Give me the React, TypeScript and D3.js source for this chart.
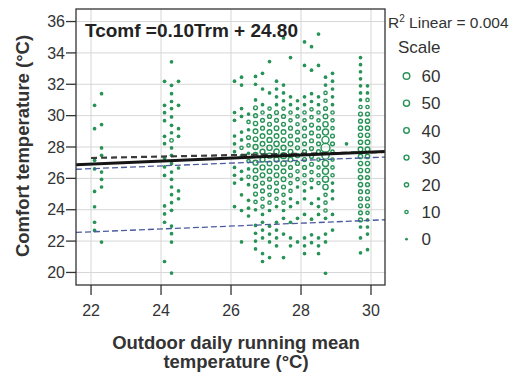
import React from "react";
import * as d3 from "d3";

const xTicks = [22, 24, 26, 28, 30];
const yTicks = [20, 22, 24, 26, 28, 30, 32, 34, 36];
const legendCounts = [60, 50, 40, 30, 20, 10, 0];

const columnX = [22.1, 22.3, 24.1, 24.3, 24.5, 26.1, 26.3, 26.5, 26.7, 26.9, 27.1, 27.3, 27.5, 27.7, 27.9, 28.1, 28.3, 28.5, 28.7, 28.9, 29.3, 29.7, 29.9];

// [comfort temperature, count] per column
const columnPoints: number[][][] = [
  [[30.66,5],[29.17,5],[27.15,5],[26.6,5],[25.17,5],[24.19,5],[23.2,5],[22.68,5]],
  [[31.4,5],[29.43,5],[27.94,5],[27.47,5],[26.4,5],[25.94,5],[25.45,5],[21.94,5]],
  [[32.19,5],[30.66,5],[30.19,5],[29.68,5],[28.68,5],[28.21,5],[27.26,5],[26.73,5],[26.19,5],[24.24,5],[23.73,5],[23.2,5],[20.7,5]],
  [[33.43,5],[31.93,5],[31.4,5],[30.9,5],[30.45,5],[29.92,5],[29.38,5],[28.91,5],[28.42,12],[27.94,5],[27.47,5],[26.94,5],[26.4,5],[25.94,5],[25.45,5],[24.96,5],[24.45,5],[23.96,5],[22.96,5],[22.47,5],[21.94,5],[19.96,5]],
  [[32.19,5],[30.66,5],[29.17,5],[28.68,5],[26.66,5],[25.2,5],[24.7,5]],
  [[32.2,5],[30.2,5],[29.7,5],[28.7,5],[28.2,5],[27.7,5],[26.7,5],[26.2,5],[25.7,5],[24.2,5]],
  [[32.45,5],[31.95,5],[30.45,5],[29.95,5],[28.95,5],[28.45,5],[27.95,10],[27.45,5],[26.45,5],[25.95,5],[24.95,5],[23.95,5],[21.95,5]],
  [[30.1,5],[29.6,10],[29.1,5],[28.6,15],[28.1,10],[27.6,5],[27.1,10],[26.6,5],[26.1,10],[25.6,5],[24.6,5],[24.1,5],[23.6,5]],
  [[32.5,5],[32.0,5],[31.0,5],[30.5,15],[30.0,15],[29.5,20],[29.0,25],[28.5,25],[28.0,30],[27.5,25],[27.0,30],[26.5,25],[26.0,25],[25.5,15],[25.0,15],[24.5,10],[24.0,5],[23.0,5],[22.5,5],[22.0,5],[21.5,5]],
  [[32.7,5],[31.7,5],[30.7,5],[30.2,10],[29.7,15],[29.2,15],[28.7,25],[28.2,25],[27.7,30],[27.2,30],[26.7,30],[26.2,25],[25.7,15],[25.2,15],[24.7,10],[24.2,10],[23.7,5],[23.2,5],[22.7,5],[22.2,5],[21.2,5],[20.7,5]],
  [[33.45,5],[31.45,5],[30.45,10],[29.95,15],[29.45,15],[28.95,25],[28.45,30],[27.95,35],[27.45,30],[26.95,25],[26.45,25],[25.95,15],[25.45,15],[24.95,10],[24.45,10],[23.95,5],[22.95,5],[22.45,5],[21.95,5],[20.95,5]],
  [[32.2,5],[31.7,5],[31.2,5],[30.7,5],[30.2,15],[29.7,15],[29.2,25],[28.7,25],[28.2,35],[27.7,35],[27.2,30],[26.7,25],[26.2,25],[25.7,15],[25.2,15],[24.7,10],[24.2,5],[23.2,5],[22.7,5],[22.2,5],[21.7,5]],
  [[34.95,5],[31.95,5],[31.45,5],[30.95,5],[30.45,10],[29.95,15],[29.45,15],[28.95,25],[28.45,25],[27.95,30],[27.45,45],[26.95,35],[26.45,25],[25.95,25],[25.45,15],[24.95,10],[24.45,10],[23.95,5],[23.45,5],[22.45,5],[20.95,5]],
  [[33.7,5],[31.2,5],[30.7,5],[30.2,10],[29.7,10],[29.2,15],[28.7,15],[28.2,25],[27.7,25],[27.2,25],[26.7,15],[26.2,15],[25.7,10],[25.2,10],[24.7,5],[24.2,5],[23.2,5],[22.2,5],[21.7,5]],
  [[30.95,5],[30.45,5],[29.95,10],[29.45,10],[28.95,15],[28.45,15],[27.95,15],[27.45,15],[26.95,15],[26.45,10],[25.95,10],[25.45,5],[24.45,5],[23.45,5],[21.95,5]],
  [[34.7,5],[33.2,5],[31.2,5],[30.7,5],[30.2,10],[29.7,10],[29.2,15],[28.7,15],[28.2,15],[27.7,15],[27.2,15],[26.7,15],[26.2,10],[25.7,10],[25.2,5],[24.7,5],[23.7,5],[22.2,5],[21.7,5],[21.2,5]],
  [[34.4,5],[32.9,5],[31.4,5],[30.9,5],[30.4,10],[29.9,10],[29.4,15],[28.9,15],[28.4,15],[27.9,15],[27.4,15],[26.9,15],[26.4,10],[25.9,10],[25.4,5],[24.4,5],[23.4,5],[22.4,5],[21.9,5]],
  [[35.2,5],[33.2,5],[31.2,5],[30.7,5],[30.2,10],[29.7,10],[29.2,15],[28.7,15],[28.2,15],[27.7,15],[27.2,10],[26.7,10],[26.2,10],[25.7,10],[24.7,5],[24.2,5],[23.7,5],[22.2,5],[21.7,5],[21.2,5]],
  [[32.45,5],[31.95,5],[31.45,10],[30.95,10],[30.45,15],[29.95,25],[29.45,35],[28.95,50],[28.45,70],[27.95,120],[27.45,70],[26.95,50],[26.45,50],[25.95,50],[25.45,35],[24.95,10],[24.45,10],[23.95,10],[23.45,5],[22.45,5],[21.95,5],[19.95,5]],
  [[32.7,5],[32.2,5],[31.7,5],[31.2,5],[30.7,5],[30.2,10],[29.7,10],[29.2,10],[28.7,15],[28.2,15],[27.7,10],[27.2,10],[26.7,10],[26.2,10],[25.7,5],[25.2,5],[24.7,5],[23.7,5],[22.7,5]],
  [[28.2,5]],
  [[33.7,5],[33.25,5],[32.8,5],[32.35,5],[31.9,5],[31.45,5],[31.0,5],[30.55,10],[30.1,15],[29.65,15],[29.2,20],[28.75,20],[28.3,20],[27.85,25],[27.4,20],[26.95,20],[26.5,20],[26.05,20],[25.6,20],[25.15,15],[24.7,15],[24.25,15],[23.8,15],[23.35,15],[22.9,5],[22.2,5],[21.25,5]],
  [[31.9,5],[31.45,5],[31.0,10],[30.55,10],[30.1,15],[29.65,20],[29.2,20],[28.75,20],[28.3,25],[27.85,25],[27.4,20],[26.95,20],[26.5,20],[26.05,15],[25.6,15],[25.15,15],[24.7,15],[24.25,15],[23.8,10],[23.35,5],[22.9,5],[22.45,5],[21.45,5]],
];

// fitted lines: [x0, y0, x1, y1]
const fitLine = [21.57, 26.87, 30.4, 27.72];
const meanLine = [22.0, 27.3, 30.4, 27.68];
const upperCI = [21.57, 26.58, 30.4, 27.36];
const lowerCI = [21.57, 22.55, 30.4, 23.36];

const W = 531, H = 374;
const L = 76, R = 385, T = 9, B = 285;
const GREEN = "#279356";
const FONT = "'Liberation Sans', Arial, Helvetica, sans-serif";

export default function App() {
  const x = d3.scaleLinear().domain([21.57, 30.4]).range([L, R]);
  const y = d3.scaleLinear().domain([19.2, 36.8]).range([B, T]);
  const rad = d3.scaleSqrt().domain([0, 60]).range([1.2, 4.0]);
  const line = d3.line<number[]>().x((d) => x(d[0])).y((d) => y(d[1]));
  const seg = (s: number[]) => line([[s[0], s[1]], [s[2], s[3]]]) || "";
  const SW = 1.4;

  const pts: { cx: number; cy: number; n: number }[] = [];
  columnX.forEach((cx, i) => {
    columnPoints[i].forEach(([v, n]) => pts.push({ cx, cy: v, n }));
  });
  pts.sort((a, b) => a.n - b.n);

  return (
    <svg width={W} height={H} style={{ position: "absolute", left: 0, top: 0, background: "#fff" }} fontFamily={FONT}>
      <rect x={0} y={0} width={W} height={H} fill="#fff" />
      <defs>
        <clipPath id="plotclip"><rect x={L} y={T} width={R - L} height={B - T} /></clipPath>
      </defs>
      {xTicks.map((t) => (
        <line key={"gx" + t} x1={x(t)} x2={x(t)} y1={T} y2={B} stroke="#d6d6d6" strokeWidth={1} />
      ))}
      {yTicks.map((t) => (
        <line key={"gy" + t} x1={L} x2={R} y1={y(t)} y2={y(t)} stroke="#d6d6d6" strokeWidth={1} />
      ))}
      <g clipPath="url(#plotclip)">
        {pts.map((p, i) => {
          const ro = rad(p.n);
          return p.n <= 5 ? (
            <circle key={i} cx={x(p.cx)} cy={y(p.cy)} r={1.85} fill={GREEN} />
          ) : (
            <circle key={i} cx={x(p.cx)} cy={y(p.cy)} r={Math.max(ro - SW / 2, 0.5)} fill="none" stroke={GREEN} strokeWidth={SW} />
          );
        })}
        <path d={seg(lowerCI)} stroke="#4a5a9e" strokeWidth={1.3} strokeDasharray="6 3" fill="none" />
        <path d={seg(upperCI)} stroke="#4a5a9e" strokeWidth={1.3} strokeDasharray="6 3" fill="none" />
        <path d={seg(meanLine)} stroke="#3a3a3a" strokeWidth={2.2} strokeDasharray="6 4" fill="none" />
        <path d={seg(fitLine)} stroke="#151515" strokeWidth={3} fill="none" />
      </g>
      <rect x={L} y={T} width={R - L} height={B - T} fill="none" stroke="#333" strokeWidth={1.3} />
      {yTicks.map((t) => (
        <g key={"ty" + t}>
          <line x1={L - 10} x2={L} y1={y(t)} y2={y(t)} stroke="#333" strokeWidth={1.3} />
          <text x={L - 11} y={y(t)} dy="0.36em" textAnchor="end" fontSize={16} fill="#333">{t}</text>
        </g>
      ))}
      {xTicks.map((t) => (
        <g key={"tx" + t}>
          <line x1={x(t)} x2={x(t)} y1={B} y2={B + 10} stroke="#333" strokeWidth={1.3} />
          <text x={x(t)} y={316} textAnchor="middle" fontSize={16} fill="#333">{t}</text>
        </g>
      ))}
      <text x={85} y={36.5} fontSize={19} fontWeight="bold" fill="#222">Tcomf =0.10Trm + 24.80</text>
      <text transform={`translate(29,146) rotate(-90)`} textAnchor="middle" fontSize={18.5} fontWeight="bold" fill="#333">Comfort temperature (°C)</text>
      <text x={236} y={349} textAnchor="middle" fontSize={18.5} fontWeight="bold" fill="#333">Outdoor daily running mean</text>
      <text x={236} y={368} textAnchor="middle" fontSize={18.5} fontWeight="bold" fill="#333">temperature (°C)</text>
      <text x={388} y={28} fontSize={15.5} fill="#333">R<tspan dy={-6} fontSize={10}>2</tspan><tspan dy={6}> Linear = 0.004</tspan></text>
      <text x={398} y={53} fontSize={17} fill="#333">Scale</text>
      {legendCounts.map((c, i) => {
        const cy = 76 + i * 27.2;
        const ro = rad(c);
        return (
          <g key={"lg" + c}>
            {c === 0 ? (
              <circle cx={406.5} cy={cy} r={1.4} fill={GREEN} />
            ) : (
              <circle cx={406.5} cy={cy} r={ro - SW / 2} fill="none" stroke={GREEN} strokeWidth={SW} />
            )}
            <text x={421.5} y={cy} dy="0.36em" fontSize={17} fill="#333">{c}</text>
          </g>
        );
      })}
    </svg>
  );
}
